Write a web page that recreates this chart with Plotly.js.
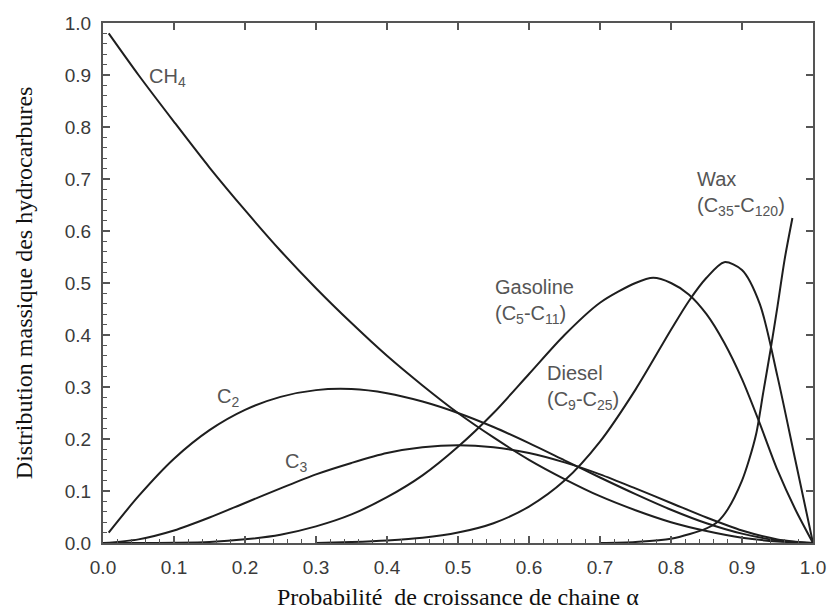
<!DOCTYPE html>
<html><head><meta charset="utf-8">
<script src="https://cdn.plot.ly/plotly-3.0.1.min.js"></script>
<style>body{margin:0;background:#fff}</style>
</head><body><div id="chart" style="width:828px;height:612px"></div>
<script>
// Chain growth probability alpha (x) and mass fraction (y)
const xCH4 = [0.008,0.05,0.1,0.15,0.2,0.25,0.3,0.35,0.4,0.45,0.5,0.55,0.6,0.65,0.7,0.75,0.8,0.85,0.9,0.95,1.0];
const yCH4 = [0.98,0.90,0.81,0.722,0.64,0.562,0.49,0.423,0.36,0.303,0.25,0.203,0.16,0.123,0.09,0.063,0.04,0.023,0.01,0.003,0.0];

const xC2 = [0.008,0.05,0.1,0.15,0.2,0.25,0.3,0.35,0.4,0.45,0.5,0.55,0.6,0.65,0.7,0.75,0.8,0.85,0.9,0.95,1.0];
const yC2 = [0.02,0.09,0.162,0.217,0.256,0.281,0.294,0.296,0.288,0.272,0.25,0.223,0.192,0.159,0.126,0.094,0.064,0.038,0.018,0.005,0.0];

const xC3 = [0.0,0.05,0.1,0.15,0.2,0.25,0.3,0.35,0.4,0.45,0.5,0.55,0.6,0.65,0.7,0.75,0.8,0.85,0.9,0.95,1.0];
const yC3 = [0.0,0.007,0.024,0.049,0.077,0.105,0.132,0.154,0.173,0.184,0.188,0.184,0.173,0.155,0.132,0.105,0.077,0.049,0.024,0.007,0.0];

const xGasoline = [0.0,0.05,0.1,0.15,0.2,0.25,0.3,0.35,0.4,0.45,0.5,0.55,0.6,0.65,0.7,0.75,0.775,0.8,0.825,0.85,0.875,0.9,0.925,0.95,0.975,1.0];
const yGasoline = [0.0,0.0,0.0005,0.002,0.007,0.016,0.032,0.055,0.088,0.13,0.185,0.25,0.325,0.40,0.462,0.50,0.51,0.50,0.478,0.44,0.385,0.315,0.23,0.14,0.065,0.0];

const xDiesel = [0.3,0.35,0.4,0.45,0.5,0.55,0.6,0.65,0.7,0.75,0.8,0.825,0.85,0.875,0.9,0.925,0.95,0.975,1.0];
const yDiesel = [0.0,0.002,0.005,0.01,0.02,0.038,0.07,0.12,0.195,0.295,0.41,0.465,0.51,0.54,0.525,0.46,0.32,0.16,0.0];

const xWax = [0.7,0.75,0.8,0.85,0.865,0.88,0.9,0.91,0.92,0.93,0.94,0.95,0.96,0.971];
const yWax = [0.0,0.002,0.008,0.028,0.04,0.065,0.12,0.16,0.21,0.29,0.37,0.455,0.545,0.625];

const labelTexts = ['CH<sub>4</sub>','C<sub>2</sub>','C<sub>3</sub>',
  'Gasoline<br>(C<sub>5</sub>-C<sub>11</sub>)','Diesel<br>(C<sub>9</sub>-C<sub>25</sub>)','Wax<br>(C<sub>35</sub>-C<sub>120</sub>)'];
const labelX = [0.062,0.158,0.254,0.549,0.6225,0.834];
const labelY = [0.896,0.28,0.154,0.517,0.352,0.725];
const labelYAnchor = ['middle','middle','middle','top','top','top'];

const xTitle = 'Probabilité  de croissance de chaine α';
const yTitle = 'Distribution massique des hydrocarbures';

const lineStyle = {color:'#1e1e1e', width:2, shape:'spline', smoothing:0.8};
const series = [[xCH4,yCH4,'CH4'],[xC2,yC2,'C2'],[xC3,yC3,'C3'],
  [xGasoline,yGasoline,'Gasoline'],[xDiesel,yDiesel,'Diesel'],[xWax,yWax,'Wax']];

const traces = series.map(s => ({x:s[0], y:s[1], name:s[2], type:'scatter', mode:'lines',
  line:lineStyle, showlegend:false, hoverinfo:'skip'}));
traces.push({x:[], y:[], xaxis:'x2', yaxis:'y2', type:'scatter', mode:'lines', showlegend:false});

const tickFont = {family:'Liberation Sans, Arial, sans-serif', size:19, color:'#3a3a3a'};
const axCol = '#555';

const annotations = labelTexts.map((t,i) => ({text:t, x:labelX[i], y:labelY[i], xref:'x', yref:'y',
  xanchor:'left', yanchor:labelYAnchor[i], align:'left', showarrow:false,
  font:{family:'Liberation Sans, Arial, sans-serif', size:20, color:'#555'}}));
annotations.push({text:xTitle, xref:'paper', yref:'paper', x:0.5, y:-0.104, xanchor:'center', yanchor:'middle',
  showarrow:false, font:{family:'Liberation Serif, Times New Roman, serif', size:24, color:'#111'}});
annotations.push({text:yTitle, xref:'paper', yref:'paper', x:-0.111, y:0.5, xanchor:'center', yanchor:'middle',
  textangle:-90, showarrow:false, font:{family:'Liberation Serif, Times New Roman, serif', size:24, color:'#111'}});

const layout = {
  width:828, height:612,
  margin:{l:103, r:15, t:23, b:69, pad:0},
  paper_bgcolor:'#fff', plot_bgcolor:'#fff',
  xaxis:{range:[0,1], dtick:0.1, tick0:0, tickformat:'.1f', ticks:'inside', ticklen:7, tickwidth:1.5, tickcolor:axCol,
    showline:true, linecolor:axCol, linewidth:2, mirror:true, showgrid:false, zeroline:false,
    tickfont:tickFont, ticklabelstandoff:6,
    minor:{dtick:0.02, ticks:'inside', ticklen:4, tickwidth:1, tickcolor:axCol, showgrid:false}},
  yaxis:{range:[0,1], dtick:0.1, tick0:0, tickformat:'.1f', ticks:'inside', ticklen:7, tickwidth:1.5, tickcolor:axCol,
    showline:true, linecolor:axCol, linewidth:2, mirror:true, showgrid:false, zeroline:false,
    tickfont:tickFont, ticklabelstandoff:6,
    minor:{dtick:0.02, ticks:'inside', ticklen:4, tickwidth:1, tickcolor:axCol, showgrid:false}},
  xaxis2:{overlaying:'x', side:'top', anchor:'y', range:[0,1], dtick:0.1, ticks:'inside', ticklen:7, tickwidth:1.5,
    tickcolor:axCol, showticklabels:false, showgrid:false, zeroline:false, showline:false},
  yaxis2:{overlaying:'y', side:'right', anchor:'x', range:[0,1], dtick:0.1, ticks:'inside', ticklen:7, tickwidth:1.5,
    tickcolor:axCol, showticklabels:false, showgrid:false, zeroline:false, showline:false},
  annotations:annotations
};

Plotly.newPlot('chart', traces, layout, {staticPlot:true});
</script>
</body></html>
